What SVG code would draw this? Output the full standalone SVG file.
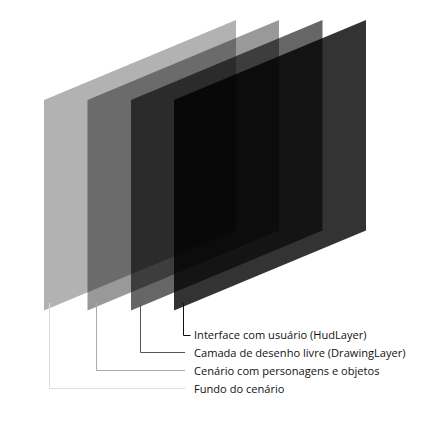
<svg xmlns="http://www.w3.org/2000/svg" width="428" height="441" viewBox="0 0 428 441">
<style>
.lbl{font-family:"Open Sans","Liberation Sans",sans-serif;font-size:11.1px;fill:#111}
.ld{fill:none;stroke-width:1}
</style>
<rect width="428" height="441" fill="#fff"/>
<g id="layer-fundo"><polygon points="44,100 236,20 236,230.5 44,310.5" fill="#000" fill-opacity="0.3"/></g>
<g id="layer-cenario"><polygon points="87.5,100 279,20 279,230.5 87.5,310.5" fill="#000" fill-opacity="0.4"/></g>
<g id="layer-drawing"><polygon points="131,100 322.5,20 322.5,230.5 131,310.5" fill="#000" fill-opacity="0.6"/></g>
<g id="layer-hud"><polygon points="174,100 366,20 366,230.5 174,310.5" fill="#000" fill-opacity="0.8"/></g>
<g id="connectors">
<polyline class="ld" stroke="#dddddd" points="49.5,303 49.5,388.5 185,388.5"/>
<polyline class="ld" stroke="#aaaaaa" points="96.5,303 96.5,370.5 185,370.5"/>
<polyline class="ld" stroke="#555555" points="140.5,303 140.5,352.5 185,352.5"/>
<polyline class="ld" stroke="#111111" points="183.5,303 183.5,335.5 190.5,335.5"/>
</g>
<g id="labels">
<text class="lbl" x="194" y="339">Interface com usuário (HudLayer)</text>
<text class="lbl" x="194" y="356.5">Camada de desenho livre (DrawingLayer)</text>
<text class="lbl" x="194" y="374.5">Cenário com personagens e objetos</text>
<text class="lbl" x="194" y="392.5">Fundo do cenário</text>
</g>
</svg>
